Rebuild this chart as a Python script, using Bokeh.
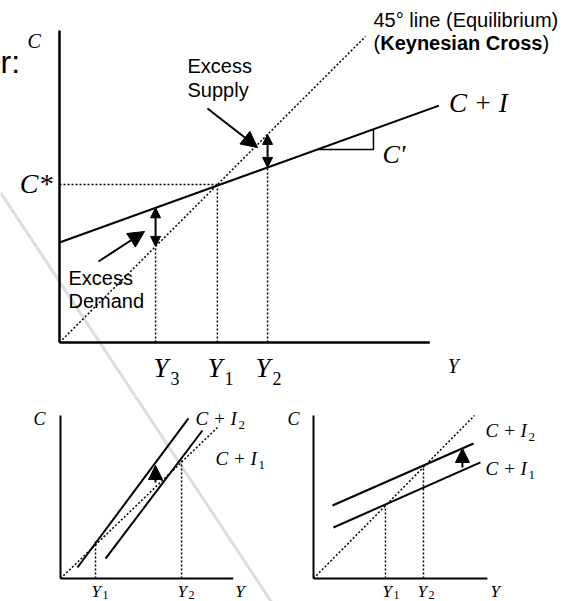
import numpy as np
from bokeh.plotting import figure
from bokeh.layouts import column, row
from bokeh.models import Range1d, Arrow, NormalHead
from bokeh.core.properties import value
from bokeh.embed import file_html
from bokeh.resources import INLINE

SERIF = "Liberation Serif"
SANS = "Liberation Sans"
BASELINE_FIX = 0.38   # renderer places alphabetic baseline slightly low

# ---------------- data: main Keynesian-cross panel ----------------
main_axis_end = [121, 102]          # length of Y axis, length of C axis
main_45_Y = [0, 100]
main_45_C = [0, 100]
main_CI_Y = [0, 124]                # C + I line
main_CI_C = [32.7, 77.4]
main_level_sub = ["3", "1", "2"]    # Y3, Y1, Y2
main_level_Y = [31.4, 51.6, 68.0]
main_C_star = 51.6
main_slope_Y = [84.3, 102.6]        # C' triangle run

# ---------------- data: bottom-left panel ----------------
bl_axis_end = [110, 108]
bl_45_Y = [0, 100]
bl_45_C = [0, 100]
bl_CI2_Y = [10.8, 81.5]
bl_CI2_C = [7.3, 106.0]
bl_CI1_Y = [28.7, 90.4]
bl_CI1_C = [13.2, 98.0]
bl_level_sub = ["1", "2"]
bl_level_Y = [22.3, 77.1]
bl_level_C = [24.5, 80.1]
bl_shift_Y = 60.5
bl_shift_C = [63.6, 74.8]

# ---------------- data: bottom-right panel ----------------
br_axis_end = [108, 100]
br_45_Y = [0, 100]
br_45_C = [0, 100]
br_CI2_Y = [11.8, 99.4]
br_CI2_C = [44.8, 82.8]
br_CI1_Y = [12.4, 103.7]
br_CI1_C = [31.3, 71.2]
br_level_sub = ["1", "2"]
br_level_Y = [44.7, 68.3]
br_level_C = [44.8, 69.3]
br_shift_Y = 92.5
br_shift_C = [68.1, 79.8]


class Panel:
    def __init__(self, left, top, w, h, ox, oy, sx, sy):
        self.ox, self.oy, self.sx, self.sy = ox, oy, sx, sy
        p = figure(width=w, height=h,
                   x_range=Range1d((left - ox) / sx, (left + w - ox) / sx),
                   y_range=Range1d((oy - top - h) / sy, (oy - top) / sy),
                   output_backend="svg", toolbar_location=None,
                   x_axis_location=None, y_axis_location=None,
                   min_border=0, background_fill_color="white",
                   border_fill_color="white", outline_line_color=None)
        p.grid.grid_line_color = None
        self.p = p

    def dx(self, px):
        return px / self.sx

    def dy(self, px):
        return px / self.sy

    def at(self, X, Y):
        return (X - self.ox) / self.sx, (self.oy - Y) / self.sy

    def text(self, x, y, s, size, font=SERIF, style="italic", align="left",
             baseline="alphabetic"):
        y = y + self.dy(BASELINE_FIX * size)
        self.p.text(x=[x], y=[y], text=[s], text_font=value(font),
                    text_font_size=value(f"{size}px"),
                    text_font_style=value(style), text_align=value(align),
                    text_baseline=value(baseline), text_color="black")

    def arrow(self, x0, y0, x1, y1, size, both=False, width=2):
        def head():
            return NormalHead(size=size, fill_color="black",
                              line_color="black", line_width=1)
        a = Arrow(x_start=x0, y_start=y0, x_end=x1, y_end=y1, end=head(),
                  start=head() if both else None, line_color="black",
                  line_width=width)
        self.p.add_layout(a)

    def axes(self, ends, width):
        self.p.line([0, 0], [0, ends[1]], line_color="black", line_width=width)
        self.p.line([0, ends[0]], [0, 0], line_color="black", line_width=width)

    def dotted(self, xs, ys):
        self.p.line(xs, ys, line_color="black", line_width=1.5, line_dash="2 2")

    def gray(self):
        x0, y0 = self.at(0, 192)
        x1, y1 = self.at(272, 603)
        self.p.line([x0, x1], [y0, y1], line_color="#dddddd", line_width=3)


# ======================= main panel =======================
M = Panel(0, 0, 585, 395, 59, 342, 3.06, 3.06)
M.gray()
M.axes(main_axis_end, 2.5)


def ci(y):
    return float(np.interp(y, main_CI_Y, main_CI_C))


M.dotted(main_45_Y, main_45_C)
M.p.line(main_CI_Y, main_CI_C, line_color="black", line_width=2)
M.dotted([0, main_level_Y[1]], [main_C_star, main_C_star])
for Yv in main_level_Y:
    M.dotted([Yv, Yv], [0, min(Yv, ci(Yv))])

# excess demand / excess supply gaps
M.arrow(main_level_Y[0], ci(main_level_Y[0]), main_level_Y[0], main_level_Y[0], 10, both=True)
M.arrow(main_level_Y[2], main_level_Y[2], main_level_Y[2], ci(main_level_Y[2]), 10, both=True)

# slope triangle C'
a, b = main_slope_Y
M.p.line([a, b, b], [ci(a), ci(a), ci(b)], line_color="black", line_width=1.5)

# pointer arrows
x0, y0 = M.at(207, 108); x1, y1 = M.at(257, 147)
M.arrow(x0, y0, x1, y1, 16)
x0, y0 = M.at(98, 261); x1, y1 = M.at(144, 231)
M.arrow(x0, y0, x1, y1, 16)

# texts
M.text(-M.dx(32), main_axis_end[1] - M.dy(18), "C", 20)
M.text(-M.dx(7), main_C_star - M.dy(10), "C*", 28, align="right")
for sub, Yv, off in zip(main_level_sub, main_level_Y, [-2, -10, -12]):
    M.text(Yv + M.dx(off), -M.dy(36), "Y", 27)
    M.text(Yv + M.dx(off + 17), -M.dy(43), sub, 18, style="normal")
M.text(main_axis_end[0] + M.dx(18), -M.dy(31), "Y", 20)
M.text(main_CI_Y[1] + M.dx(10), main_CI_C[1] - M.dy(8), "C + I", 27)
M.text(b + M.dx(9), ci(a) - M.dy(15), "C'", 26)

tx = main_45_Y[1] + M.dx(8)
M.text(tx, main_45_C[1] + M.dy(9), "45° line (Equilibrium)", 20, font=SANS, style="normal")
ty2 = main_45_C[1] - M.dy(14)
M.text(tx, ty2, "(", 20, font=SANS, style="normal")
M.text(tx + M.dx(6.7), ty2, "Keynesian Cross", 20, font=SANS, style="bold")
M.text(tx + M.dx(6.7 + 162.3), ty2, ")", 20, font=SANS, style="normal")

for s, yy in [("Excess", 73), ("Supply", 97)]:
    x, y = M.at(187, yy)
    M.text(x, y, s, 20, font=SANS, style="normal")
for s, yy in [("Excess", 285), ("Demand", 308)]:
    x, y = M.at(68, yy)
    M.text(x, y, s, 20, font=SANS, style="normal")
x, y = M.at(0, 74)
M.text(x, y, "r:", 32, font=SANS, style="normal")

# ======================= bottom-left panel =======================
L = Panel(0, 395, 280, 206, 60, 578, 1.57, 1.51)
L.gray()
L.axes(bl_axis_end, 2)
L.dotted(bl_45_Y, bl_45_C)
L.p.line(bl_CI2_Y, bl_CI2_C, line_color="black", line_width=2)
L.p.line(bl_CI1_Y, bl_CI1_C, line_color="black", line_width=2)
for Yv, Cv in zip(bl_level_Y, bl_level_C):
    L.dotted([Yv, Yv], [0, Cv])
L.arrow(bl_shift_Y, bl_shift_C[0], bl_shift_Y, bl_shift_C[1], 14)

L.text(-L.dx(27), bl_axis_end[1] - L.dy(10), "C", 18)
x, y = L.at(195, 425)
L.text(x, y, "C + I", 19)
L.text(x + L.dx(43), y - L.dy(4), "2", 13, style="normal")
x, y = L.at(215, 465)
L.text(x, y, "C + I", 19)
L.text(x + L.dx(43), y - L.dy(4), "1", 13, style="normal")
for sub, Yv in zip(bl_level_sub, bl_level_Y):
    L.text(Yv - L.dx(4), -L.dy(19), "Y", 17)
    L.text(Yv + L.dx(7), -L.dy(21), sub, 12, style="normal")
L.text(bl_axis_end[0] + L.dx(2), -L.dy(19), "Y", 17)

# ======================= bottom-right panel =======================
R = Panel(280, 395, 305, 206, 313, 578, 1.61, 1.63)
R.axes(br_axis_end, 2)
R.dotted(br_45_Y, br_45_C)
R.p.line(br_CI2_Y, br_CI2_C, line_color="black", line_width=2)
R.p.line(br_CI1_Y, br_CI1_C, line_color="black", line_width=2)
for Yv, Cv in zip(br_level_Y, br_level_C):
    R.dotted([Yv, Yv], [0, Cv])
R.arrow(br_shift_Y, br_shift_C[0], br_shift_Y, br_shift_C[1], 14)

R.text(-R.dx(26), br_axis_end[1] - R.dy(10), "C", 18)
x, y = R.at(485, 437)
R.text(x, y, "C + I", 19)
R.text(x + R.dx(43), y - R.dy(4), "2", 13, style="normal")
x, y = R.at(485, 475)
R.text(x, y, "C + I", 19)
R.text(x + R.dx(43), y - R.dy(4), "1", 13, style="normal")
for sub, Yv, off in zip(br_level_sub, br_level_Y, [-3, -6]):
    R.text(Yv + R.dx(off), -R.dy(19), "Y", 17)
    R.text(Yv + R.dx(off + 11), -R.dy(21), sub, 12, style="normal")
R.text(br_axis_end[0] + R.dx(3), -R.dy(19), "Y", 17)

layout = column(M.p, row(L.p, R.p, spacing=0), spacing=0)
open("out.html", "w").write(file_html(layout, INLINE))
